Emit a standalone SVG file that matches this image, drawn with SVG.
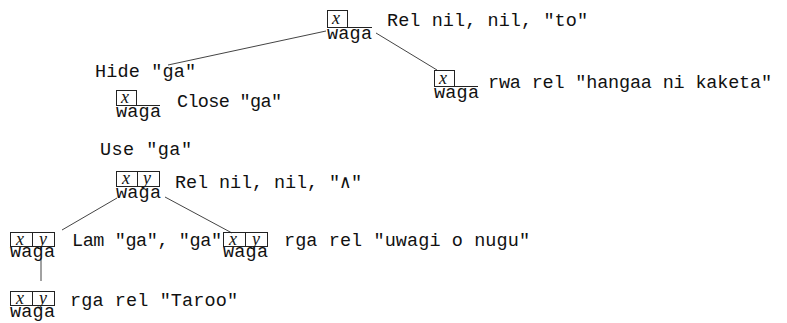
<svg xmlns="http://www.w3.org/2000/svg" width="787" height="323" viewBox="0 0 787 323">
<style>
.t{font-family:"Liberation Mono","DejaVu Sans Mono",monospace;font-size:18.5px;fill:#111}
.w{font-family:"Liberation Mono","DejaVu Sans Mono",monospace;font-size:18.5px;fill:#111}
.v{font-family:"Liberation Serif","DejaVu Serif",serif;font-style:italic;font-size:18px;fill:#111}
.b{fill:none;stroke:#222;stroke-width:1}
.c{stroke:#444;stroke-width:1;fill:none}
</style>
<rect width="787" height="323" fill="#fff"/>
<g id="connectors">
<line class="c" x1="326" y1="31" x2="168" y2="65"/>
<line class="c" x1="376" y1="33" x2="437" y2="70"/>
<line class="c" x1="117" y1="198" x2="62" y2="230"/>
<line class="c" x1="165" y1="197" x2="232" y2="233"/>
<line class="c" x1="41" y1="258" x2="41" y2="281"/>
</g>
<g id="root">
<rect class="b" x="327.5" y="10.5" width="20" height="17"/>
<text class="v" x="332" y="24">x</text>
<line class="b" x1="347" y1="27.5" x2="372" y2="27.5"/>
<text class="w" x="327" y="39" textLength="45">waga</text>
<text class="t" x="387" y="26" textLength="201">Rel nil, nil, "to"</text>
</g>
<g id="hide">
<text class="t" x="95" y="77" textLength="101">Hide "ga"</text>
</g>
<g id="close">
<rect class="b" x="116.5" y="90.5" width="20" height="15"/>
<text class="v" x="121" y="103">x</text>
<line class="b" x1="136" y1="105.5" x2="160" y2="105.5"/>
<text class="w" x="116" y="117" textLength="45">waga</text>
<text class="t" x="177" y="107" textLength="105">Close "ga"</text>
</g>
<g id="rwa">
<rect class="b" x="434.5" y="70.5" width="20" height="16"/>
<text class="v" x="439" y="84">x</text>
<line class="b" x1="454" y1="86.5" x2="478" y2="86.5"/>
<text class="w" x="434" y="98" textLength="45">waga</text>
<text class="t" x="488" y="88" textLength="284">rwa rel "hangaa ni kaketa"</text>
</g>
<g id="use">
<text class="t" x="100" y="155" textLength="92">Use "ga"</text>
</g>
<g id="relwedge">
<rect class="b" x="116.5" y="171.5" width="21" height="15"/>
<rect class="b" x="137.5" y="171.5" width="22" height="15"/>
<text class="v" x="122" y="184">x</text>
<text class="v" x="143" y="184">y</text>
<text class="w" x="116" y="198" textLength="45">waga</text>
<text class="t" x="175" y="188" textLength="187">Rel nil, nil, "∧"</text>
</g>
<g id="lam">
<rect class="b" x="10.5" y="232.5" width="22" height="14"/>
<rect class="b" x="32.5" y="232.5" width="22" height="14"/>
<text class="v" x="16" y="245">x</text>
<text class="v" x="39" y="245">y</text>
<text class="w" x="10" y="257" textLength="45">waga</text>
<text class="t" x="72" y="246" textLength="150">Lam "ga", "ga"</text>
</g>
<g id="uwagi">
<rect class="b" x="223.5" y="232.5" width="22" height="14"/>
<rect class="b" x="245.5" y="232.5" width="22" height="14"/>
<text class="v" x="229" y="245">x</text>
<text class="v" x="252" y="245">y</text>
<text class="w" x="223" y="257" textLength="45">waga</text>
<text class="t" x="284" y="246" textLength="246">rga rel "uwagi o nugu"</text>
</g>
<g id="taroo">
<rect class="b" x="10.5" y="291.5" width="22" height="14"/>
<rect class="b" x="32.5" y="291.5" width="22" height="14"/>
<text class="v" x="16" y="304">x</text>
<text class="v" x="39" y="304">y</text>
<text class="w" x="10" y="317" textLength="45">waga</text>
<text class="t" x="70" y="306" textLength="168">rga rel "Taroo"</text>
</g>
</svg>
